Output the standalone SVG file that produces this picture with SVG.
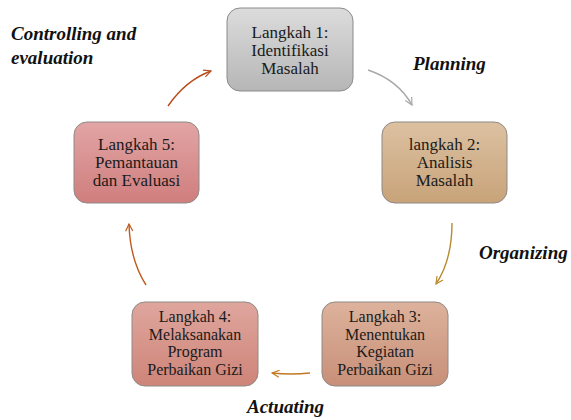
<svg xmlns="http://www.w3.org/2000/svg" width="571" height="420" viewBox="0 0 571 420">
<defs>
<linearGradient id="g1" x1="0" y1="0" x2="0" y2="1"><stop offset="0" stop-color="#dcdcdc"/><stop offset="1" stop-color="#b6b6b6"/></linearGradient>
<linearGradient id="g2" x1="0" y1="0" x2="0" y2="1"><stop offset="0" stop-color="#dcc1a2"/><stop offset="1" stop-color="#c8a379"/></linearGradient>
<linearGradient id="g3" x1="0" y1="0" x2="0" y2="1"><stop offset="0" stop-color="#ddb29c"/><stop offset="1" stop-color="#c88f78"/></linearGradient>
<linearGradient id="g4" x1="0" y1="0" x2="0" y2="1"><stop offset="0" stop-color="#dfa69e"/><stop offset="1" stop-color="#ce8478"/></linearGradient>
<linearGradient id="g5" x1="0" y1="0" x2="0" y2="1"><stop offset="0" stop-color="#e2a5a5"/><stop offset="1" stop-color="#d07d7d"/></linearGradient>
<marker id="m1" viewBox="0 0 10 10" refX="9" refY="5" markerWidth="9" markerHeight="9" markerUnits="userSpaceOnUse" orient="auto"><path d="M1,1 L9,5 L1,9" fill="none" stroke="#a8a8a8" stroke-width="1.3"/></marker>
<marker id="m2" viewBox="0 0 10 10" refX="9" refY="5" markerWidth="9" markerHeight="9" markerUnits="userSpaceOnUse" orient="auto"><path d="M1,1 L9,5 L1,9" fill="none" stroke="#b88a30" stroke-width="1.3"/></marker>
<marker id="m3" viewBox="0 0 10 10" refX="9" refY="5" markerWidth="9" markerHeight="9" markerUnits="userSpaceOnUse" orient="auto"><path d="M1,1 L9,5 L1,9" fill="none" stroke="#c27820" stroke-width="1.3"/></marker>
<marker id="m4" viewBox="0 0 10 10" refX="9" refY="5" markerWidth="9" markerHeight="9" markerUnits="userSpaceOnUse" orient="auto"><path d="M1,1 L9,5 L1,9" fill="none" stroke="#c05a1a" stroke-width="1.3"/></marker>
<marker id="m5" viewBox="0 0 10 10" refX="9" refY="5" markerWidth="9" markerHeight="9" markerUnits="userSpaceOnUse" orient="auto"><path d="M1,1 L9,5 L1,9" fill="none" stroke="#b84c1a" stroke-width="1.3"/></marker>
</defs>
<style>
.box{stroke:#8e8a86;stroke-width:1}
.t{font-family:"Liberation Serif","Times New Roman",serif;font-size:17px;fill:#1a1a1a;text-anchor:middle}
.ts{font-size:16px}
.lab{font-family:"Liberation Serif","Times New Roman",serif;font-size:19px;font-weight:bold;font-style:italic;fill:#111}
.c{fill:none;stroke-width:1.4}
</style>
<g id="connectors">
<path class="c" d="M368,70 Q398,80 412,105" stroke="#a8a8a8" marker-end="url(#m1)"/>
<path class="c" d="M452,223 Q452,260 436,284" stroke="#b88a30" marker-end="url(#m2)"/>
<path class="c" d="M310,373 Q291,375 272,373" stroke="#c27820" marker-end="url(#m3)"/>
<path class="c" d="M146,285 Q130,260 129,224" stroke="#c05a1a" marker-end="url(#m4)"/>
<path class="c" d="M168,106 Q186,80 211,71" stroke="#b84c1a" marker-end="url(#m5)"/>
</g>
<g id="node1">
<rect class="box" x="227" y="8" width="126" height="83" rx="13" fill="url(#g1)"/>
<text class="t" x="290" y="38">Langkah 1:</text>
<text class="t" x="290" y="56">Identifikasi</text>
<text class="t" x="290" y="74">Masalah</text>
</g>
<g id="node2">
<rect class="box" x="382" y="122" width="125" height="81" rx="13" fill="url(#g2)"/>
<text class="t" x="444.5" y="150">langkah 2:</text>
<text class="t" x="444.5" y="168">Analisis</text>
<text class="t" x="444.5" y="186">Masalah</text>
</g>
<g id="node3">
<rect class="box" x="322" y="302" width="126" height="84" rx="13" fill="url(#g3)"/>
<text class="t ts" x="385" y="322">Langkah 3:</text>
<text class="t ts" x="385" y="339.5">Menentukan</text>
<text class="t ts" x="385" y="357">Kegiatan</text>
<text class="t ts" x="385" y="374.5">Perbaikan Gizi</text>
</g>
<g id="node4">
<rect class="box" x="132" y="302" width="126" height="84" rx="13" fill="url(#g4)"/>
<text class="t ts" x="195" y="322">Langkah 4:</text>
<text class="t ts" x="195" y="339.5">Melaksanakan</text>
<text class="t ts" x="195" y="357">Program</text>
<text class="t ts" x="195" y="374.5">Perbaikan Gizi</text>
</g>
<g id="node5">
<rect class="box" x="74" y="122" width="125" height="81" rx="13" fill="url(#g5)"/>
<text class="t" x="136.5" y="150">Langkah 5:</text>
<text class="t" x="136.5" y="168">Pemantauan</text>
<text class="t" x="136.5" y="186">dan Evaluasi</text>
</g>
<g id="labels">
<text class="lab" x="11" y="40">Controlling and</text>
<text class="lab" x="11" y="64">evaluation</text>
<text class="lab" x="413" y="70">Planning</text>
<text class="lab" x="479" y="259">Organizing</text>
<text class="lab" x="247" y="413">Actuating</text>
</g>
</svg>
